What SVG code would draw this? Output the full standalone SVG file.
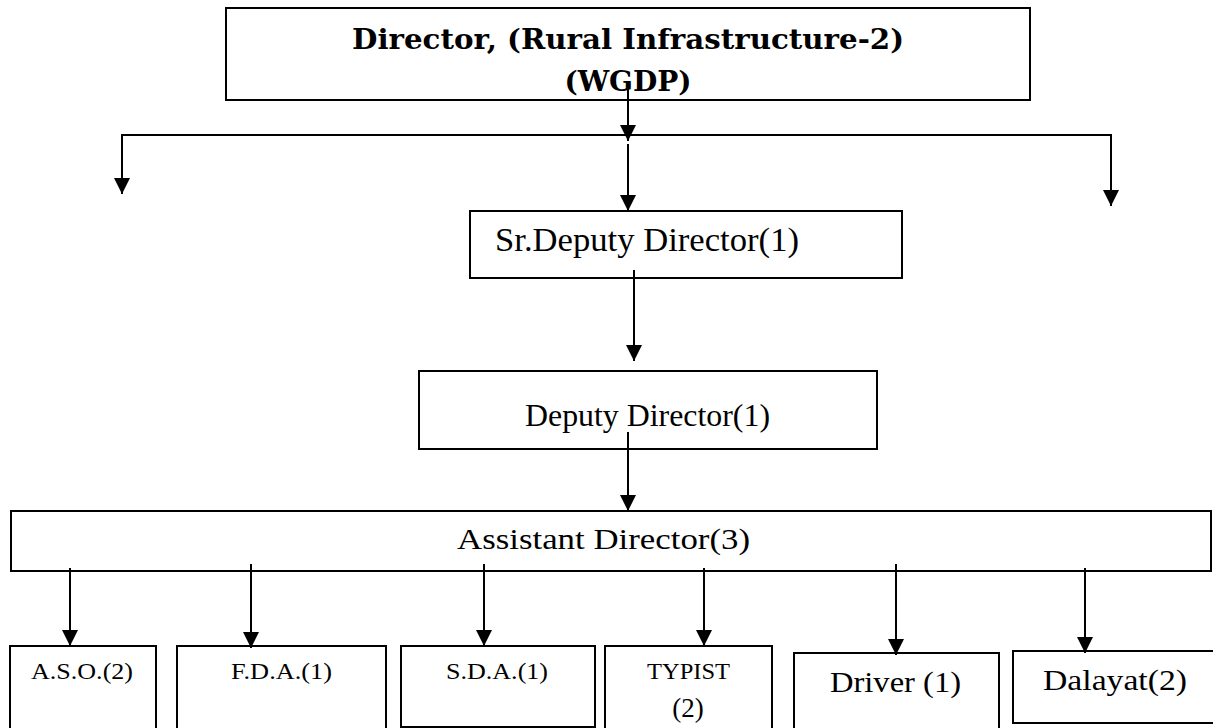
<svg xmlns="http://www.w3.org/2000/svg" width="1213" height="728" viewBox="0 0 1213 728">
<style>
.box{fill:#fff;stroke:#000;stroke-width:2}
.ln{fill:none;stroke:#000;stroke-width:2}
.t{font-family:"Liberation Serif","Times New Roman",serif;fill:#000}
.b{font-family:"DejaVu Serif",serif;font-weight:bold;fill:#000}
</style>
<defs>
<marker id="ah" markerUnits="userSpaceOnUse" markerWidth="16" markerHeight="16" refX="16" refY="8" orient="auto">
<path d="M0,0 L16,8 L0,16 z" fill="#000"/>
</marker>
</defs>
<rect width="1213" height="728" fill="#fff"/>
<g id="director">
<rect class="box" x="226" y="8" width="804" height="92"/>
<text class="b" x="628" y="49" font-size="28" text-anchor="middle" textLength="552" lengthAdjust="spacingAndGlyphs">Director, (Rural Infrastructure-2)</text>
<text class="b" x="628" y="91" font-size="28" text-anchor="middle">(WGDP)</text>
</g>
<g id="sr-deputy">
<rect class="box" x="470" y="211" width="432" height="67"/>
<text class="t" x="495" y="251" font-size="34" textLength="304" lengthAdjust="spacingAndGlyphs">Sr.Deputy Director(1)</text>
</g>
<g id="deputy">
<rect class="box" x="419" y="371" width="458" height="78"/>
<text class="t" x="525" y="426" font-size="32" textLength="245" lengthAdjust="spacingAndGlyphs">Deputy Director(1)</text>
</g>
<g id="assistant">
<rect class="box" x="11" y="511" width="1200" height="60"/>
<text class="t" x="457" y="549" font-size="29" textLength="293" lengthAdjust="spacingAndGlyphs">Assistant Director(3)</text>
</g>
<g id="aso">
<rect class="box" x="10" y="646" width="146" height="100"/>
<text class="t" x="31" y="679" font-size="24" textLength="102" lengthAdjust="spacingAndGlyphs">A.S.O.(2)</text>
</g>
<g id="fda">
<rect class="box" x="177" y="646" width="209" height="100"/>
<text class="t" x="231" y="679" font-size="24" textLength="101" lengthAdjust="spacingAndGlyphs">F.D.A.(1)</text>
</g>
<g id="sda">
<rect class="box" x="401" y="646" width="194" height="81"/>
<text class="t" x="446" y="679" font-size="24" textLength="102" lengthAdjust="spacingAndGlyphs">S.D.A.(1)</text>
</g>
<g id="typist">
<rect class="box" x="605" y="646" width="167" height="100"/>
<text class="t" x="647" y="679" font-size="24" textLength="83" lengthAdjust="spacingAndGlyphs">TYPIST</text>
<text class="t" x="688" y="717" font-size="27" text-anchor="middle">(2)</text>
</g>
<g id="driver">
<rect class="box" x="794" y="653" width="205" height="100"/>
<text class="t" x="830" y="692" font-size="30" textLength="131" lengthAdjust="spacingAndGlyphs">Driver (1)</text>
</g>
<g id="dalayat">
<rect class="box" x="1013" y="651" width="205" height="72"/>
<text class="t" x="1043" y="690" font-size="30" textLength="144" lengthAdjust="spacingAndGlyphs">Dalayat(2)</text>
</g>
<g id="connectors">
<line class="ln" x1="628" y1="88" x2="628" y2="141" marker-end="url(#ah)"/>
<line class="ln" x1="121" y1="135" x2="1112" y2="135"/>
<line class="ln" x1="122" y1="134" x2="122" y2="194" marker-end="url(#ah)"/>
<line class="ln" x1="1111" y1="134" x2="1111" y2="206" marker-end="url(#ah)"/>
<line class="ln" x1="628" y1="144" x2="628" y2="211" marker-end="url(#ah)"/>
<line class="ln" x1="634" y1="270" x2="634" y2="361" marker-end="url(#ah)"/>
<line class="ln" x1="628" y1="432" x2="628" y2="511" marker-end="url(#ah)"/>
<line class="ln" x1="70" y1="568" x2="70" y2="646" marker-end="url(#ah)"/>
<line class="ln" x1="251" y1="564" x2="251" y2="648" marker-end="url(#ah)"/>
<line class="ln" x1="484" y1="564" x2="484" y2="646" marker-end="url(#ah)"/>
<line class="ln" x1="704" y1="568" x2="704" y2="646" marker-end="url(#ah)"/>
<line class="ln" x1="896" y1="564" x2="896" y2="655" marker-end="url(#ah)"/>
<line class="ln" x1="1085" y1="568" x2="1085" y2="653" marker-end="url(#ah)"/>
</g>
</svg>
